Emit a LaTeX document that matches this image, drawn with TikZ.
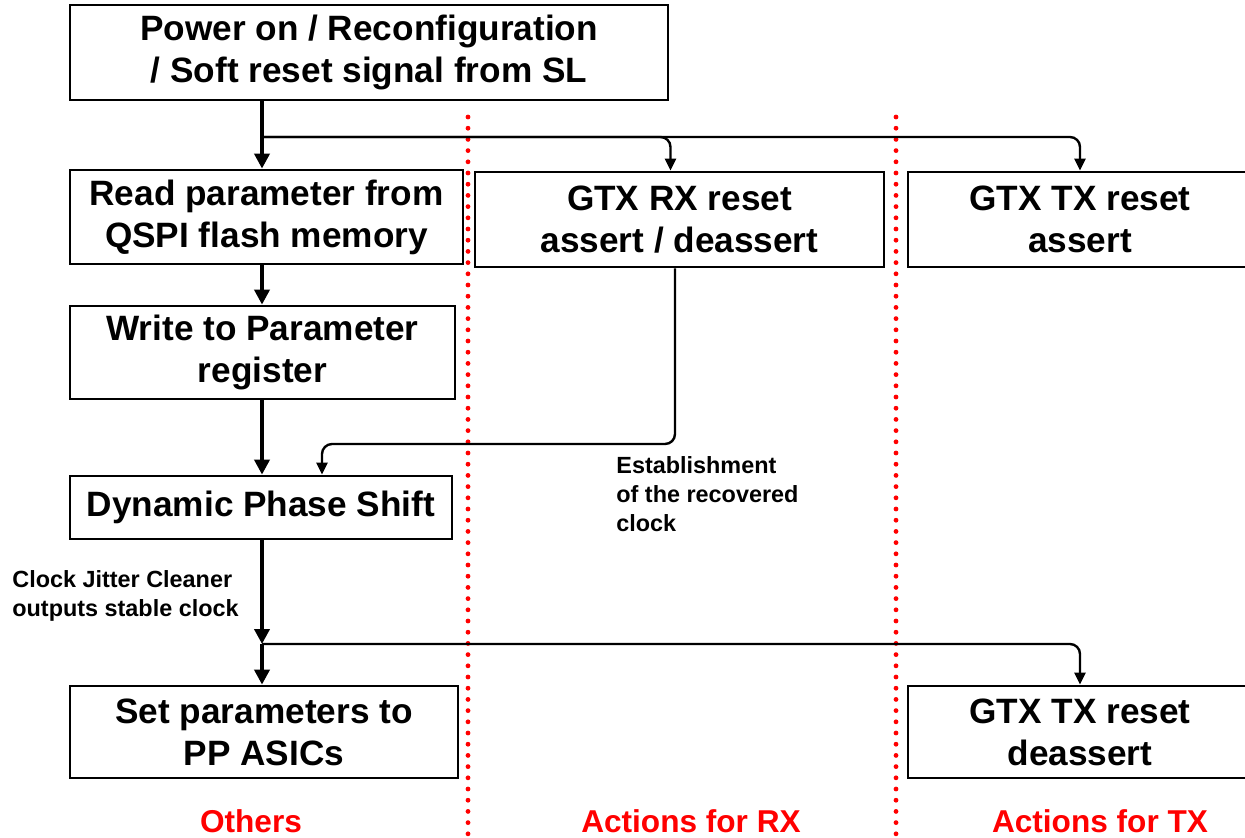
\documentclass[tikz,border=0pt]{standalone}
\usepackage{fontspec}
\setmainfont{Liberation Sans}
\usetikzlibrary{arrows.meta}
\begin{document}
\begin{tikzpicture}[x=0.5pt,y=-0.5pt,
  box/.style={draw=black,line width=1.4pt,fill=white,inner sep=0pt,align=center,
    font=\fontsize{17.6}{21}\selectfont\bfseries},
  mainflow/.style={line width=2.1pt,-{Triangle[length=7.5pt,width=7.5pt]}},
  branch/.style={line width=1.2pt,rounded corners=5pt,-{Triangle[length=6pt,width=5.5pt]}},
  note/.style={inner sep=0pt,align=left,anchor=base west,
    font=\fontsize{11.7}{14.5}\selectfont\bfseries},
  region/.style={inner sep=0pt,anchor=base,text=red,
    font=\fontsize{15.8}{19}\selectfont\bfseries},
  divider/.style={red,line width=2.4pt,line cap=round,dash pattern=on 0pt off 5.6pt}]
\useasboundingbox (0,0) rectangle (1245,837);
\clip (0,0) rectangle (1245,837);
\fill[white] (0,0) rectangle (1245,837);

% column dividers
\coordinate (d1t) at (468,117);
\coordinate (d1b) at (468,837);
\coordinate (d2t) at (896,117);
\coordinate (d2b) at (896,837);
\draw[divider] (d1t) -- (d1b);
\draw[divider] (d2t) -- (d2b);

% boxes
\node[box,minimum width=299pt,minimum height=47.5pt] (start) at (369,52.5)
  {Power on / Reconfiguration\\/ Soft reset signal from SL};
\node[box,minimum width=196.5pt,minimum height=47pt] (read) at (266.5,217)
  {Read parameter from\\QSPI flash memory};
\node[box,minimum width=204.5pt,minimum height=47.5pt] (rx) at (679.5,219.5)
  {GTX RX reset\\assert / deassert};
\node[box,minimum width=172pt,minimum height=47.5pt] (txa) at (1080,219.5)
  {GTX TX reset\\assert};
\node[box,minimum width=192.5pt,minimum height=46.5pt] (write) at (262.5,352.5)
  {Write to Parameter\\register};
\node[box,minimum width=191pt,minimum height=31.5pt] (dps) at (261,507.5)
  {Dynamic Phase Shift};
\node[box,minimum width=194pt,minimum height=46pt] (set) at (264,732)
  {Set parameters to\\PP ASICs};
\node[box,minimum width=172pt,minimum height=46pt] (txd) at (1080,732)
  {GTX TX reset\\deassert};

% junction points
\coordinate (j1) at (262,137);
\coordinate (j2) at (262,644);

% main flow
\draw[line width=2.1pt] (start.south -| j1) -- (j1);
\draw[mainflow] (j1) -- (read.north -| j1);
\draw[mainflow] (read.south -| j1) -- (write.north -| j1);
\draw[mainflow] (write.south -| j1) -- (dps.north -| j1);
\draw[mainflow] (dps.south -| j2) -- (j2);
\draw[mainflow] (j2) -- (set.north -| j2);

% branches
\draw[branch] (j1) -| ([xshift=-4.5pt]rx.north);
\draw[branch] (j1) -| (txa.north);
\draw[branch] ([xshift=-2.25pt]rx.south) |- (400,444) -| (dps.north -| 322,0);
\draw[branch] (j2) -| (txd.north);

% notes (anchored at the baseline of their last line)
\node[note] (recov) at (616,531) {Establishment\\of the recovered\\clock};
\node[note] (cjc) at (12,616) {Clock Jitter Cleaner\\outputs stable clock};

% column titles
\node[region] (others) at (251,832) {Others};
\node[region] (actrx) at (691,832) {Actions for RX};
\node[region] (acttx) at (1100,832) {Actions for TX};
\end{tikzpicture}
\end{document}
